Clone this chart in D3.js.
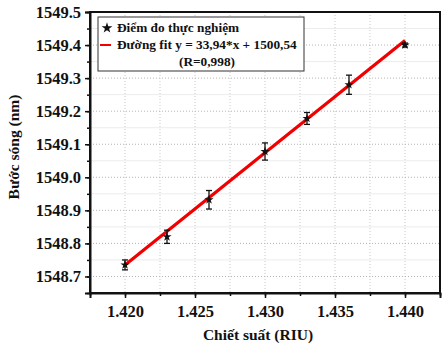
<!DOCTYPE html>
<html lang="vi">
<head>
    <meta charset="UTF-8">
    <title>Buoc song theo chiet suat</title>
    <script src="https://d3js.org/d3.v7.min.js"></script>
    <style>
        body { margin: 0; background: #fff; }
        svg text { font-family: "Liberation Serif", "Times New Roman", serif; font-weight: bold; fill: #111; }
    </style>
</head>
<body>
    <div id="chart"></div>
    <script>
        // measured points
        const refractive_index = [1.420, 1.423, 1.426, 1.430, 1.433, 1.436, 1.440];
        const wavelength = [1548.735, 1548.820, 1548.932, 1549.078, 1549.178, 1549.280, 1549.400];
        const wavelength_err = [0.015, 0.020, 0.028, 0.026, 0.018, 0.029, 0.006];
        const x_ticks = [1.420, 1.425, 1.430, 1.435, 1.440];
        const y_ticks = [1548.7, 1548.8, 1548.9, 1549.0, 1549.1, 1549.2, 1549.3, 1549.4, 1549.5];
        const fit_slope = 33.94;
        const fit_intercept = 1500.54;
        const legend_labels = ["Điểm đo thực nghiệm", "Đường fit y = 33,94*x + 1500,54", "(R=0,998)"];

        const width = 446, height = 344;
        const margin = {left: 90, top: 12, right: 6, bottom: 51};
        const w = width - margin.left - margin.right;
        const h = height - margin.top - margin.bottom;

        const data = refractive_index.map((x, i) => ({x: x, y: wavelength[i], e: wavelength_err[i]}));

        const svg = d3.select("#chart")
            .append("svg")
            .attr("width", width)
            .attr("height", height);

        const g = svg.append("g")
            .attr("transform", `translate(${margin.left}, ${margin.top})`);

        const x_axis = d3.scaleLinear()
            .domain([1.4175, 1.4425])
            .range([0, w]);

        const y_axis = d3.scaleLinear()
            .domain([1548.65, 1549.5])
            .range([h, 0]);

        const x_minor = d3.range(0, 11).map(i => 1.4175 + i * 0.0025);
        const y_minor = d3.range(0, 18).map(i => 1548.65 + i * 0.05);

        // grid
        g.append("g")
            .selectAll("line")
            .data(x_minor)
            .enter()
            .append("line")
            .attr("x1", d => x_axis(d))
            .attr("x2", d => x_axis(d))
            .attr("y1", 0)
            .attr("y2", h)
            .attr("stroke", "#c8c8c8")
            .attr("stroke-width", 1)
            .attr("stroke-dasharray", "1,2");

        g.append("g")
            .selectAll("line")
            .data(y_minor)
            .enter()
            .append("line")
            .attr("x1", 0)
            .attr("x2", w)
            .attr("y1", d => y_axis(d))
            .attr("y2", d => y_axis(d))
            .attr("stroke", d => Math.abs(Math.round(d * 10) - d * 10) < 1e-6 ? "#b4b4b4" : "#ececec")
            .attr("stroke-width", 1)
            .attr("stroke-dasharray", d => Math.abs(Math.round(d * 10) - d * 10) < 1e-6 ? "1,2" : null);

        // axes
        const x_ax = g.append("g")
            .attr("transform", `translate(0, ${h})`)
            .call(d3.axisBottom(x_axis).tickValues(x_ticks).tickFormat(d3.format(".3f")).tickSize(5).tickPadding(7));
        g.append("g")
            .attr("transform", `translate(0, ${h})`)
            .call(d3.axisBottom(x_axis).tickValues(x_minor).tickFormat("").tickSize(3))
            .call(a => a.select(".domain").remove());

        const y_ax = g.append("g")
            .call(d3.axisLeft(y_axis).tickValues(y_ticks).tickFormat(d3.format(".1f")).tickSize(5).tickPadding(4));
        g.append("g")
            .call(d3.axisLeft(y_axis).tickValues(y_minor).tickFormat("").tickSize(3))
            .call(a => a.select(".domain").remove());

        svg.selectAll(".tick line").attr("stroke", "#111").attr("stroke-width", 1.5);
        svg.selectAll(".domain").attr("stroke", "#111").attr("stroke-width", 2);
        x_ax.selectAll("text").style("font-size", "16.5px");
        y_ax.selectAll("text").style("font-size", "16.5px");

        // frame
        g.append("rect")
            .attr("x", 0)
            .attr("y", 0)
            .attr("width", w)
            .attr("height", h)
            .attr("fill", "none")
            .attr("stroke", "#111")
            .attr("stroke-width", 2);

        // fit line
        const x0 = refractive_index[0], x1 = refractive_index[refractive_index.length - 1];
        g.append("line")
            .attr("x1", x_axis(x0))
            .attr("y1", y_axis(fit_slope * x0 + fit_intercept))
            .attr("x2", x_axis(x1))
            .attr("y2", y_axis(fit_slope * x1 + fit_intercept))
            .attr("stroke", "#f00000")
            .attr("stroke-width", 3.2);

        // error bars
        const bars = g.append("g").attr("stroke", "#111").attr("stroke-width", 1.3);
        data.forEach(d => {
            const cx = x_axis(d.x);
            bars.append("line")
                .attr("x1", cx).attr("x2", cx)
                .attr("y1", y_axis(d.y - d.e)).attr("y2", y_axis(d.y + d.e));
            [d.y - d.e, d.y + d.e].forEach(v => {
                bars.append("line")
                    .attr("x1", cx - 3).attr("x2", cx + 3)
                    .attr("y1", y_axis(v)).attr("y2", y_axis(v));
            });
        });

        const star = d3.symbol().type(d3.symbolStar).size(26);
        g.append("g")
            .selectAll("path")
            .data(data)
            .enter()
            .append("path")
            .attr("d", star)
            .attr("transform", d => `translate(${x_axis(d.x)}, ${y_axis(d.y)})`)
            .attr("fill", "#111");

        // legend
        const legend = g.append("g").attr("transform", "translate(8, 5)");
        legend.append("rect")
            .attr("width", 206)
            .attr("height", 54)
            .attr("fill", "#fff")
            .attr("stroke", "#333")
            .attr("stroke-width", 1);
        legend.append("path")
            .attr("d", d3.symbol().type(d3.symbolStar).size(36))
            .attr("transform", "translate(9, 11)")
            .attr("fill", "#111");
        legend.append("line")
            .attr("x1", 2).attr("x2", 13)
            .attr("y1", 28).attr("y2", 28)
            .attr("stroke", "#f00000")
            .attr("stroke-width", 2);
        legend.append("text").attr("x", 19).attr("y", 15).style("font-size", "13.3px").text(legend_labels[0]);
        legend.append("text").attr("x", 19).attr("y", 32).style("font-size", "13.3px").text(legend_labels[1]);
        legend.append("text").attr("x", 109).attr("y", 49).attr("text-anchor", "middle").style("font-size", "13.3px").text(legend_labels[2]);

        // axis titles
        svg.append("text")
            .attr("x", margin.left + x_axis(1.4295))
            .attr("y", 340)
            .attr("text-anchor", "middle")
            .style("font-size", "15.5px")
            .text("Chiết suất (RIU)");

        svg.append("text")
            .attr("transform", "translate(19, 147) rotate(-90)")
            .attr("text-anchor", "middle")
            .style("font-size", "15.5px")
            .text("Bước sóng (nm)");
    </script>
</body>
</html>
